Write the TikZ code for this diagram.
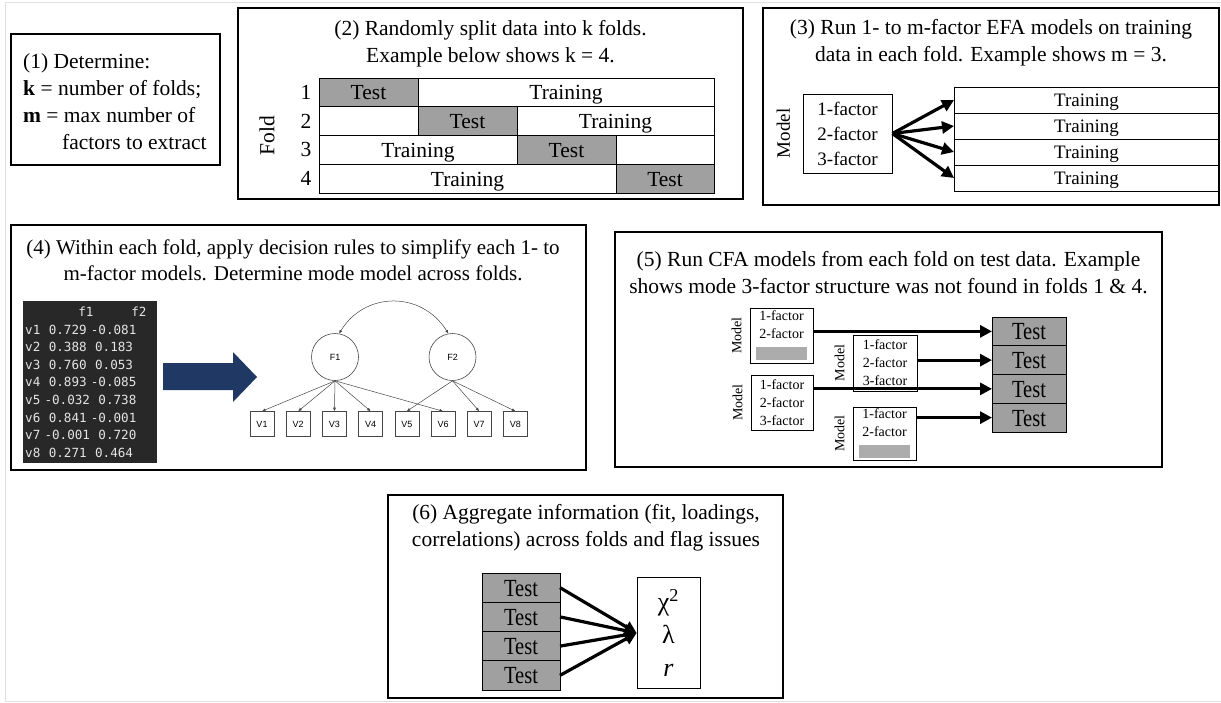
\documentclass[tikz,border=0pt]{standalone}
\usepackage{fontspec}
\setmainfont{Liberation Serif}
\setsansfont{Liberation Sans}
\setmonofont{DejaVu Sans Mono}
\usepackage{xcolor}
\usepackage{tikz}
\usetikzlibrary{arrows.meta,positioning}

\definecolor{testgray}{RGB}{160,160,160}
\definecolor{bargray}{RGB}{172,172,172}
\definecolor{semgray}{RGB}{70,70,70}
\definecolor{navy}{RGB}{31,56,100}
\definecolor{console}{RGB}{40,40,40}
\definecolor{consoletext}{RGB}{228,228,228}
\newcommand{\tallt}[1]{\scalebox{1}[1.2]{#1}}

\begin{document}
\begin{tikzpicture}[>=Stealth, x=1pt, y=-1pt]
\tikzstyle{panel}=[draw=black, line width=1.4pt]
\tikzstyle{big}=[font=\fontsize{21.5}{27}\selectfont]
\tikzstyle{mid}=[font=\fontsize{19}{25}\selectfont]
\tikzstyle{small}=[font=\fontsize{14}{18}\selectfont]
\tikzstyle{cell}=[draw, line width=0.8pt, inner sep=0pt, outer sep=0pt, minimum height=28.75, text height=16pt, text depth=1pt, big]
\tikzstyle{testcell}=[cell, fill=testgray]
\tikzstyle{tallcell}=[testcell, font=\fontsize{20.5}{24}\selectfont, text height=17pt, text depth=0pt]
\tikzstyle{mbox}=[draw, line width=0.8pt, inner sep=0pt, align=center]
\tikzstyle{fat}=[line width=3.2pt, -{Triangle[length=12pt,width=12pt]}]
\tikzstyle{lv}=[circle, draw=semgray, line width=0.6pt, minimum size=47, inner sep=0pt, font=\sffamily\fontsize{9}{9}\selectfont]
\tikzstyle{ov}=[draw=semgray, line width=0.6pt, minimum width=24, minimum height=25, inner sep=0pt, font=\sffamily\fontsize{9}{9}\selectfont]
\tikzstyle{load}=[semgray, line width=0.5pt, -{Latex[length=3.5pt,width=3pt]}]

\useasboundingbox (0,0) rectangle (1221,702);
\draw[gray!25, line width=0.8pt] (1221,2) -- (5,2) -- (5,701) -- (1221,701);

% (1) settings
\draw[panel] (11,34) rectangle (220,165);
\node[big, align=left, anchor=west, inner sep=0pt] (det) at (23,102)
  {(1) Determine:\\\textbf{k} = number of folds;\\\textbf{m} = max number of\\\hspace*{39pt}factors to extract};

% (2) folds
\draw[panel] (238,8) rectangle (743,199);
\node[big, align=center] (t2) at (490.5,44) {(2) Randomly split data into k folds.\\Example below shows k = 4.};
\node[testcell, anchor=north west, minimum width=99] (c11) at (319,78) {Test};
\node[cell, minimum width=296, right=0pt of c11] (c12) {Training};
\node[cell, minimum width=99, below=0pt of c11] (c21) {};
\node[testcell, minimum width=99, right=0pt of c21] (c22) {Test};
\node[cell, minimum width=197, right=0pt of c22] (c23) {Training};
\node[cell, minimum width=198, anchor=north west] (c31) at (c21.south west) {Training};
\node[testcell, minimum width=99, right=0pt of c31] (c32) {Test};
\node[cell, minimum width=98, right=0pt of c32] (c33) {};
\node[cell, minimum width=297, anchor=north west] (c41) at (c31.south west) {Training};
\node[testcell, minimum width=98, right=0pt of c41] (c42) {Test};
\foreach \r in {1,...,4}
  \node[big, left=4pt of c\r1] (k\r) {\r};
\node[big, rotate=90] (fold) at (267,135.5) {Fold};

% (3) EFA
\draw[panel] (763,8) rectangle (1219,205);
\node[big, align=center] (t3) at (991,42.5) {(3) Run 1- to m-factor EFA models on training\\data in each fold. Example shows m = 3.};
\node[mbox, mid, minimum width=89, minimum height=79] (m3) at (847.5,133.5) {1-factor\\2-factor\\3-factor};
\node[mid, rotate=90, anchor=south] (ml3) at ([xshift=-9pt]m3.west) {Model};
\node[cell, mid, minimum width=265, minimum height=26, text height=14pt, anchor=north west] (tr1) at (954,87) {Training};
\node[cell, mid, minimum width=265, minimum height=26, text height=14pt, below=0pt of tr1] (tr2) {Training};
\node[cell, mid, minimum width=265, minimum height=26, text height=14pt, below=0pt of tr2] (tr3) {Training};
\node[cell, mid, minimum width=265, minimum height=26, text height=14pt, below=0pt of tr3] (tr4) {Training};
\foreach \i in {1,...,4}
  \draw[fat] (m3.east) -- (tr\i.west);

% (4) decision rules
\draw[panel] (11,225) rectangle (586,470);
\node[big, font=\fontsize{21}{26.5}\selectfont, align=center] (t4) at (293,260) {(4) Within each fold, apply decision rules to simplify each 1- to\\m-factor models. Determine mode model across folds.};
\node[fill=console, text=consoletext, font=\ttfamily\fontsize{12.6}{17.6}\selectfont, align=left,
  text width=130pt, inner xsep=2pt, inner ysep=0pt, minimum height=162, anchor=north west] (con) at (23,301)
  {\phantom{0000000}f1\phantom{00000}f2\\
   v1~~0.729~-0.081\\
   v2~~0.388~~0.183\\
   v3~~0.760~~0.053\\
   v4~~0.893~-0.085\\
   v5~-0.032~~0.738\\
   v6~~0.841~-0.001\\
   v7~-0.001~~0.720\\
   v8~~0.271~~0.464};
\fill[navy] (163,363) -- (233,363) -- (233,352) -- (257,377) -- (233,402) -- (233,390) -- (163,390) -- cycle;
\node[lv] (f1) at (335,357) {F1};
\node[lv] (f2) at (452.5,357) {F2};
\foreach \i in {1,...,8}
  \node[ov] (v\i) at ({262+36.2*(\i-1)},424) {V\i};
\foreach \j in {1,2,3,4,6}
  \draw[load] (f1.south) -- (v\j.north);
\foreach \j in {5,7,8}
  \draw[load] (f2.south) -- (v\j.north);
\draw[load, {Latex[length=3.5pt,width=3pt]}-{Latex[length=3.5pt,width=3pt]}] (f1.80) .. controls (365,291) and (422,291) .. (f2.100);

% (5) CFA on test data
\draw[panel] (615,232) rectangle (1162,467);
\node[big, align=center] (t5) at (888.5,272.5) {(5) Run CFA models from each fold on test data. Example\\shows mode 3-factor structure was not found in folds 1 \& 4.};
\node[mbox, small, minimum width=63, minimum height=55] (ma) at (781.5,335.5) {1-factor\\2-factor\\\textcolor{bargray}{\rule[-3.5pt]{51pt}{13pt}}};
\node[mbox, small, minimum width=64, minimum height=56] (mb) at (885,363) {1-factor\\2-factor\\3-factor};
\node[mbox, small, minimum width=62, minimum height=55] (mc) at (782,402.5) {1-factor\\2-factor\\3-factor};
\node[mbox, small, minimum width=63, minimum height=53] (md) at (884.5,433.5) {1-factor\\2-factor\\\textcolor{bargray}{\rule[-3.5pt]{51pt}{13pt}}};
\node[small, rotate=90, anchor=south, inner sep=1pt] (la) at ([xshift=-7pt]ma.west) {Model};
\node[small, rotate=90, anchor=south, inner sep=1pt] (lb) at ([xshift=-7pt]mb.west) {Model};
\node[small, rotate=90, anchor=south, inner sep=1pt] (lc) at ([xshift=-7pt]mc.west) {Model};
\node[small, rotate=90, anchor=south, inner sep=1pt] (ld) at ([xshift=-7pt]md.west) {Model};
\node[tallcell, minimum width=74, anchor=north west] (ts1) at (992,317) {\tallt{Test}};
\node[tallcell, minimum width=74, below=0pt of ts1] (ts2) {\tallt{Test}};
\node[tallcell, minimum width=74, below=0pt of ts2] (ts3) {\tallt{Test}};
\node[tallcell, minimum width=74, below=0pt of ts3] (ts4) {\tallt{Test}};
\draw[fat] (ma.east |- ts1.west) -- (ts1.west);
\draw[fat] (mb.east |- ts2.west) -- (ts2.west);
\draw[fat] (mc.east |- ts3.west) -- (ts3.west);
\draw[fat] (md.east |- ts4.west) -- (ts4.west);

% (6) aggregate
\draw[panel] (388,495) rectangle (783,698);
\node[big, align=center] (t6) at (586,527.5) {(6) Aggregate information (fit, loadings,\\correlations) across folds and flag issues};
\node[tallcell, minimum width=78, minimum height=29.25, anchor=north west] (ta1) at (482,573) {\tallt{Test}};
\node[tallcell, minimum width=78, minimum height=29.25, below=0pt of ta1] (ta2) {\tallt{Test}};
\node[tallcell, minimum width=78, minimum height=29.25, below=0pt of ta2] (ta3) {\tallt{Test}};
\node[tallcell, minimum width=78, minimum height=29.25, below=0pt of ta3] (ta4) {\tallt{Test}};
\node[mbox, minimum width=63, minimum height=111, font=\fontsize{26}{33}\selectfont] (res) at (668.5,633)
  {χ\textsuperscript{2}\\λ\\\textit{r}};
\foreach \i in {1,...,4}
  \draw[fat] (ta\i.east) -- (res.west);
\end{tikzpicture}
\end{document}
